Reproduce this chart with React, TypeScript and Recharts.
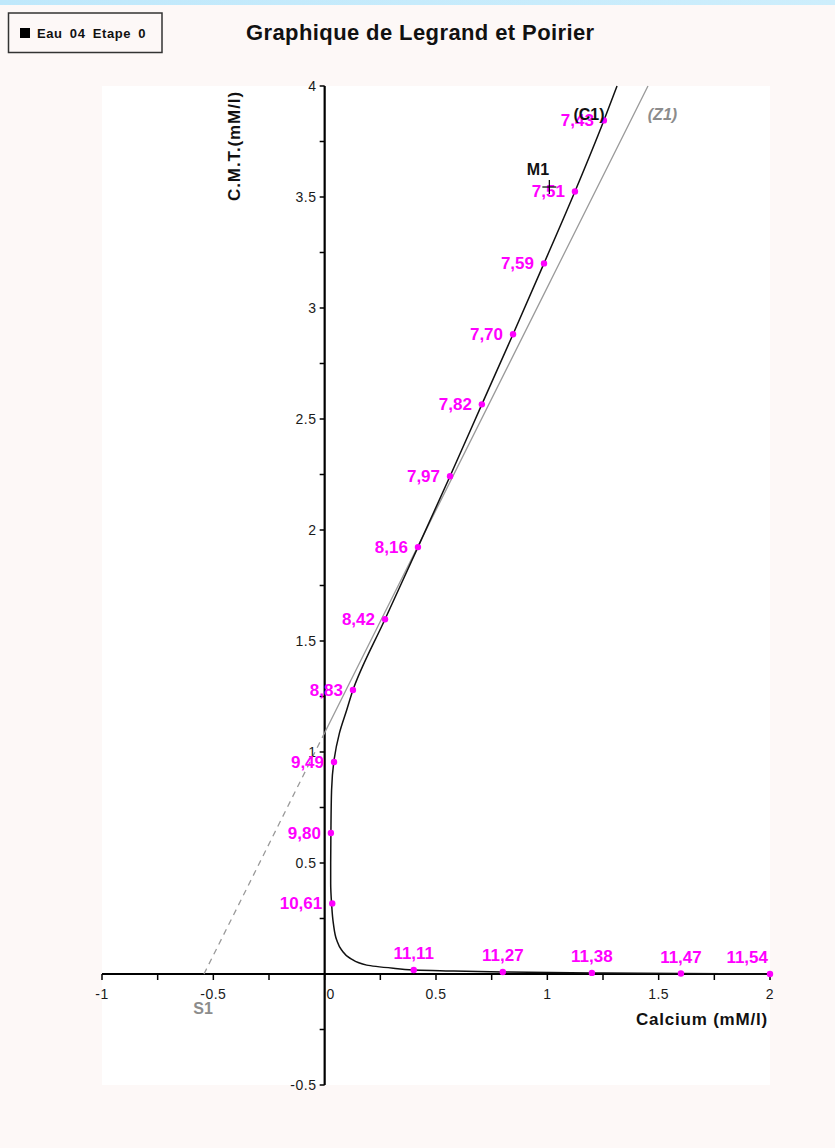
import React from "react";
import { ComposedChart, Line, Scatter, XAxis, YAxis, CartesianGrid } from "recharts";

// pH labelled points on curve C1 (upper branch)
const upperLabels = ["7,43", "7,51", "7,59", "7,70", "7,82", "7,97", "8,16", "8,42", "8,83", "9,49", "9,80", "10,61"];
const upperCa = [1.254, 1.124, 0.985, 0.846, 0.706, 0.563, 0.419, 0.271, 0.127, 0.042, 0.028, 0.034];
const upperCmt = [3.845, 3.525, 3.201, 2.882, 2.566, 2.242, 1.923, 1.598, 1.279, 0.955, 0.635, 0.318];

// pH labelled points on curve C1 (lower branch, along the Calcium axis)
const lowerLabels = ["11,11", "11,27", "11,38", "11,47", "11,54"];
const lowerCa = [0.4, 0.8, 1.2, 1.6, 2.0];
const lowerCmt = [0.018, 0.009, 0.005, 0.002, 0.0];

// Curve C1 (ordered from top to bottom-right)
const c1Ca = [1.313, 1.254, 1.124, 0.985, 0.846, 0.706, 0.563, 0.419, 0.271, 0.127, 0.099, 0.066, 0.042, 0.031, 0.028, 0.027, 0.027, 0.031, 0.039, 0.054, 0.076, 0.114, 0.189, 0.308, 0.4, 0.518, 0.8, 1.2, 1.6, 2.0];
const c1Cmt = [4.0, 3.845, 3.525, 3.201, 2.882, 2.566, 2.242, 1.923, 1.598, 1.279, 1.189, 1.084, 0.963, 0.828, 0.635, 0.5, 0.408, 0.318, 0.228, 0.153, 0.108, 0.071, 0.04, 0.026, 0.018, 0.015, 0.009, 0.005, 0.002, 0.0];

// Line Z1 and its dashed extension to S1
const z1Ca = [0, 1.452];
const z1Cmt = [1.087, 4.0];
const s1Ca = [-0.542, 0];
const s1Cmt = [0, 1.087];

// Point M1
const m1Ca = [1.009];
const m1Cmt = [3.545];

// Axis ticks
const xTickValues = [-1, -0.75, -0.5, -0.25, 0, 0.25, 0.5, 0.75, 1, 1.25, 1.5, 1.75, 2];
const xTickLabels = ["-1", "", "-0.5", "", "0", "", "0.5", "", "1", "", "1.5", "", "2"];
const yTickValues = [-0.5, -0.25, 0, 0.25, 0.5, 0.75, 1, 1.25, 1.5, 1.75, 2, 2.25, 2.5, 2.75, 3, 3.25, 3.5, 3.75, 4];
const yTickLabels = ["-0.5", "", "", "", "0.5", "", "1", "", "1.5", "", "2", "", "2.5", "", "3", "", "3.5", "", "4"];

// Annotation labels
const annotLabels = ["(C1)", "(Z1)", "M1", "S1"];
const annotCa = [1.187, 1.517, 0.958, -0.546];
const annotCmt = [3.876, 3.876, 3.624, -0.153];
const annotColors = ["#111111", "#8c8c8c", "#111111", "#8c8c8c"];
const annotItalic = [false, true, false, false];

const FONT = "'Liberation Sans', Arial, sans-serif";
const MAGENTA = "#ff00ff";

const zip = (xs: number[], ys: number[], extra?: (i: number) => any) =>
  xs.map((x, i) => ({ x, y: ys[i], ...(extra ? extra(i) : {}) }));

const upperData = zip(upperCa, upperCmt, (i) => ({ label: upperLabels[i] }));
const lowerData = zip(lowerCa, lowerCmt, (i) => ({ label: lowerLabels[i], last: i === lowerCa.length - 1 }));
const c1Data = zip(c1Ca, c1Cmt);
const z1Data = zip(z1Ca, z1Cmt);
const s1Data = zip(s1Ca, s1Cmt);
const m1Data = zip(m1Ca, m1Cmt);
const xAxisLine = [{ x: -1, y: 0 }, { x: 2, y: 0 }];
const yAxisLine = [{ x: 0, y: -0.5 }, { x: 0, y: 4 }];
const xTickData = xTickValues.map((v, i) => ({ x: v, y: 0, label: xTickLabels[i] }));
const yTickData = yTickValues.map((v, i) => ({ x: 0, y: v, label: yTickLabels[i] }));
const annotData = annotCa.map((x, i) => ({ x, y: annotCmt[i], label: annotLabels[i], color: annotColors[i], italic: annotItalic[i] }));

const UpperPoint = (p: any) => (
  <g>
    <circle cx={p.cx} cy={p.cy} r={3.2} fill={MAGENTA} />
    <text x={p.cx - 10} y={p.cy + 6} textAnchor="end" fill={MAGENTA} fontSize={17} fontWeight="bold" fontFamily={FONT}>
      {p.payload.label}
    </text>
  </g>
);

const LowerPoint = (p: any) => (
  <g>
    <circle cx={p.cx} cy={p.cy} r={3.2} fill={MAGENTA} />
    <text
      x={p.payload.last ? p.cx - 2 : p.cx}
      y={p.cy - 11}
      textAnchor={p.payload.last ? "end" : "middle"}
      fill={MAGENTA}
      fontSize={17}
      fontWeight="bold"
      fontFamily={FONT}
    >
      {p.payload.label}
    </text>
  </g>
);

const XTick = (p: any) => (
  <g>
    <line x1={p.cx} y1={p.cy} x2={p.cx} y2={p.cy + 6} stroke="#000" strokeWidth={1.5} />
    {p.payload.label ? (
      <text
        x={p.cx + (p.payload.label === "0" ? 6 : 0)}
        y={p.cy + 25}
        textAnchor="middle"
        fill="#1a1a1a"
        fontSize={14}
        letterSpacing={0.5}
        fontFamily={FONT}
      >
        {p.payload.label}
      </text>
    ) : null}
  </g>
);

const YTick = (p: any) => (
  <g>
    <line x1={p.cx} y1={p.cy} x2={p.cx - 5} y2={p.cy} stroke="#000" strokeWidth={1.5} />
    {p.payload.label ? (
      <text x={p.cx - 8} y={p.cy + 5} textAnchor="end" fill="#1a1a1a" fontSize={14} letterSpacing={0.6} fontFamily={FONT}>
        {p.payload.label}
      </text>
    ) : null}
  </g>
);

const Cross = (p: any) => (
  <g>
    <line x1={p.cx - 7} y1={p.cy} x2={p.cx + 7} y2={p.cy} stroke="#000" strokeWidth={1.2} />
    <line x1={p.cx} y1={p.cy - 7} x2={p.cx} y2={p.cy + 7} stroke="#000" strokeWidth={1.2} />
  </g>
);

const Annot = (p: any) => (
  <text
    x={p.cx}
    y={p.cy + 6}
    textAnchor="middle"
    fill={p.payload.color}
    fontSize={16}
    fontWeight="bold"
    fontStyle={p.payload.italic ? "italic" : "normal"}
    fontFamily={FONT}
  >
    {p.payload.label}
  </text>
);

export default function App() {
  return (
    <div style={{ position: "absolute", left: 0, top: 0, width: 835, height: 1148, background: "#fdf8f7", overflow: "hidden" }}>
      <div style={{ position: "absolute", left: 0, top: 0, width: 835, height: 5, background: "linear-gradient(90deg,#bfe8fb,#cdeefc)" }} />
      <div style={{ position: "absolute", left: 0, top: 0 }}>
        <ComposedChart width={835} height={1148} margin={{ top: 86, right: 65, bottom: 63, left: 102 }}>
          <CartesianGrid horizontal={false} vertical={false} fill="#ffffff" stroke="none" />
          <XAxis type="number" dataKey="x" domain={[-1, 2]} hide />
          <YAxis type="number" dataKey="y" domain={[-0.5, 4]} hide />
          <Line data={xAxisLine} dataKey="y" type="linear" stroke="#000" strokeWidth={2.2} dot={false} isAnimationActive={false} />
          <Line data={yAxisLine} dataKey="y" type="linear" stroke="#000" strokeWidth={2.2} dot={false} isAnimationActive={false} />
          <Scatter data={xTickData} dataKey="y" shape={XTick} isAnimationActive={false} />
          <Scatter data={yTickData} dataKey="y" shape={YTick} isAnimationActive={false} />
          <Line data={s1Data} dataKey="y" type="linear" stroke="#9a9a9a" strokeWidth={1.3} strokeDasharray="6 5" dot={false} isAnimationActive={false} />
          <Line data={z1Data} dataKey="y" type="linear" stroke="#9a9a9a" strokeWidth={1.3} dot={false} isAnimationActive={false} />
          <Line data={c1Data} dataKey="y" type="monotoneY" stroke="#111" strokeWidth={1.5} dot={false} isAnimationActive={false} />
          <Scatter data={upperData} dataKey="y" shape={UpperPoint} isAnimationActive={false} />
          <Scatter data={lowerData} dataKey="y" shape={LowerPoint} isAnimationActive={false} />
          <Scatter data={m1Data} dataKey="y" shape={Cross} isAnimationActive={false} />
          <Scatter data={annotData} dataKey="y" shape={Annot} isAnimationActive={false} />
        </ComposedChart>
      </div>
      <svg width={835} height={1148} style={{ position: "absolute", left: 0, top: 0, pointerEvents: "none" }}>
        <rect x={8.5} y={13} width={153.5} height={39.5} fill="#fdf8f7" stroke="#333" strokeWidth={1.5} />
        <rect x={20} y={28} width={10} height={10} fill="#000" />
        <text x={37} y={38} fontSize={13} fontWeight="bold" fill="#111" letterSpacing={0.6} wordSpacing={3} fontFamily={FONT}>
          Eau 04 Etape 0
        </text>
        <text x={246} y={40} fontSize={22} fontWeight="bold" fill="#111" letterSpacing={0.4} fontFamily={FONT}>
          Graphique de Legrand et Poirier
        </text>
        <text
          x={240}
          y={146}
          transform="rotate(-90 240 146)"
          textAnchor="middle"
          fontSize={17}
          fontWeight="bold"
          fill="#111"
          letterSpacing={0.9}
          fontFamily={FONT}
        >
          C.M.T.(mM/l)
        </text>
        <text x={768} y={1025} textAnchor="end" fontSize={17} fontWeight="bold" fill="#111" letterSpacing={0.8} fontFamily={FONT}>
          Calcium (mM/l)
        </text>
      </svg>
    </div>
  );
}
